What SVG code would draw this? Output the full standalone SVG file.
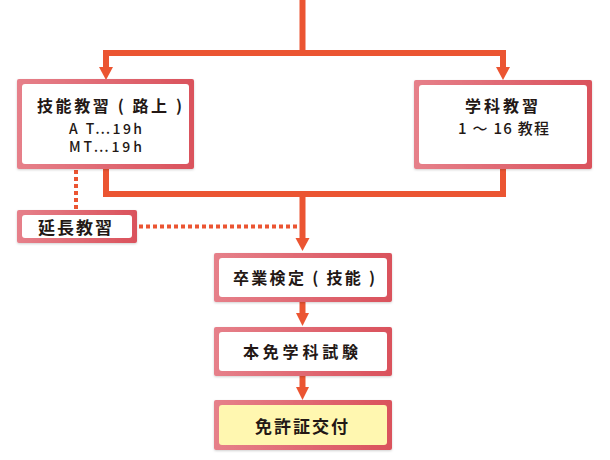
<svg xmlns="http://www.w3.org/2000/svg" width="610" height="460" viewBox="0 0 610 460">
<defs>
<linearGradient id="bd" x1="0" y1="0" x2="1" y2="0">
<stop offset="0" stop-color="#e6808a"/>
<stop offset="1" stop-color="#da525c"/>
</linearGradient>
<filter id="sh" x="-5%" y="-5%" width="110%" height="115%">
<feDropShadow dx="0" dy="1" stdDeviation="1" flood-color="#000" flood-opacity="0.18"/>
</filter>
</defs>
<style>
.outer{fill:url(#bd);filter:url(#sh)}
.inner{fill:#fff}
.yellow{fill:#fff7b0}
.ln{stroke:#eb5532;stroke-width:6;fill:none;stroke-linecap:square}
.dot{stroke:#eb5532;stroke-width:4;fill:none;stroke-dasharray:4 3}
.ah{fill:#eb5532}
.t{font-family:"Noto Sans CJK JP","Noto Sans",sans-serif;font-weight:bold;fill:#231815;text-anchor:middle;dominant-baseline:central}
.s{font-family:"Noto Sans CJK JP","Noto Sans",sans-serif;font-weight:500;fill:#231815;text-anchor:middle;dominant-baseline:central}
</style>
<rect width="610" height="460" fill="#fff"/>
<g id="connectors">
<path class="ln" d="M302.5,0 V53 M106,53 H503 M106,53 V68 M503,53 V68"/>
<polygon class="ah" points="99,67 113,67 106,80"/>
<polygon class="ah" points="496,67 510,67 503,80"/>
<path class="ln" d="M106,169 V194 H503 V169 M302.5,194 V239"/>
<polygon class="ah" points="295.5,238 309.5,238 302.5,251"/>
<path class="ln" d="M302.5,302 V314"/>
<polygon class="ah" points="296,313 309,313 302.5,326"/>
<path class="ln" d="M302.5,376 V388"/>
<polygon class="ah" points="296,387 309,387 302.5,400"/>
<path class="dot" d="M76,170 V210"/>
<path class="dot" d="M139,226.5 H299"/>
</g>
<g id="node-ginou">
<rect class="outer" x="17" y="79" width="177" height="90" rx="2"/>
<rect class="inner" x="22" y="84" width="167" height="80" rx="3"/>
<text class="t" x="109.5" y="105" font-size="16" textLength="145" lengthAdjust="spacing">技能教習 ( 路上 )</text>
<text class="s" x="105.5" y="127.5" font-size="14" textLength="73" lengthAdjust="spacing">A T⋯19h</text>
<text class="s" x="105.5" y="146" font-size="14" textLength="73" lengthAdjust="spacing">MT⋯19h</text>
</g>
<g id="node-gakka">
<rect class="outer" x="414" y="80" width="178" height="89" rx="2"/>
<rect class="inner" x="419" y="85" width="168" height="79" rx="3"/>
<text class="t" x="501.5" y="105" font-size="16" textLength="73" lengthAdjust="spacing">学科教習</text>
<text class="s" x="503.5" y="127.5" font-size="15" textLength="91" lengthAdjust="spacing">1 ～ 16 教程</text>
</g>
<g id="node-encho">
<rect class="outer" x="17" y="210" width="120" height="33" rx="2"/>
<rect class="inner" x="22" y="215" width="110" height="23" rx="3"/>
<text class="t" x="75" y="226" font-size="17" textLength="74" lengthAdjust="spacing">延長教習</text>
</g>
<g id="node-sotsugyo">
<rect class="outer" x="214" y="253" width="178" height="49" rx="2"/>
<rect class="inner" x="219" y="258" width="168" height="39" rx="3"/>
<text class="t" x="304" y="277" font-size="16" textLength="142" lengthAdjust="spacing">卒業検定 ( 技能 )</text>
</g>
<g id="node-honmen">
<rect class="outer" x="214" y="327" width="178" height="49" rx="2"/>
<rect class="inner" x="219" y="332" width="168" height="39" rx="3"/>
<text class="t" x="300.5" y="351" font-size="16" textLength="115" lengthAdjust="spacing">本免学科試験</text>
</g>
<g id="node-menkyo">
<rect class="outer" x="214" y="400" width="178" height="50" rx="2"/>
<rect class="yellow" x="219" y="405" width="168" height="40" rx="3"/>
<text class="t" x="301.5" y="425" font-size="17" textLength="93" lengthAdjust="spacing">免許証交付</text>
</g>
</svg>
